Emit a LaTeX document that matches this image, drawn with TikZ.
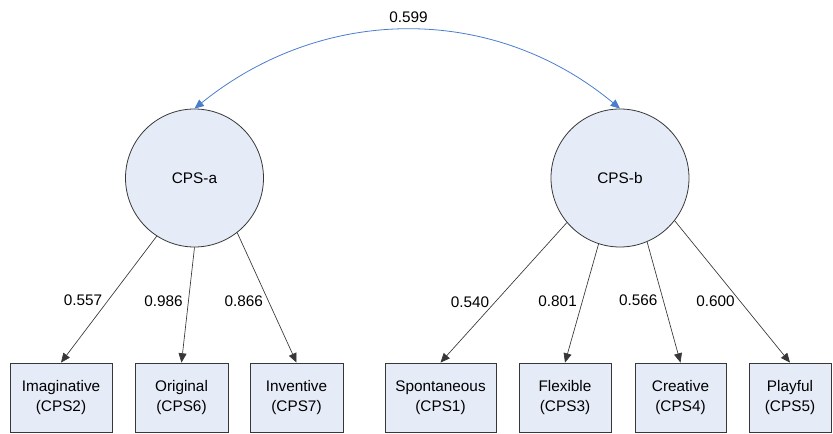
\documentclass[tikz,border=0pt]{standalone}
\usepackage{fontspec}
\setmainfont{Liberation Sans}
\usetikzlibrary{arrows.meta}
\definecolor{boxfill}{RGB}{229,235,247}
\definecolor{edgegray}{RGB}{55,55,55}
\definecolor{corrblue}{RGB}{74,126,205}
\tikzset{
  latent/.style={circle, draw=edgegray, fill=boxfill, line width=0.6pt, minimum size=103.5pt, inner sep=0pt},
  item/.style={rectangle, draw=edgegray, fill=boxfill, line width=0.6pt, minimum height=51.75pt, align=center, inner sep=0pt},
  load/.style={-{Triangle[length=7pt,width=6pt]}, edgegray, line width=0.5pt},
  lbl/.style={left, inner sep=4pt, text=black}
}
\begin{document}
\begin{tikzpicture}[x=0.75pt, y=-0.75pt, font=\fontsize{11.5}{15}\selectfont]
\useasboundingbox (0,0) rectangle (833,434);
% factors
\node[latent] (cpsa) at (194.5,178) {CPS-a};
\node[latent] (cpsb) at (620,178) {CPS-b};
% indicators
\node[item, minimum width=76.5pt] (imag) at (61,397.5) {Imaginative\\(CPS2)};
\node[item, minimum width=69.75pt] (orig) at (181.5,397.5) {Original\\(CPS6)};
\node[item, minimum width=69.75pt] (inve) at (296.5,397.5) {Inventive\\(CPS7)};
\node[item, minimum width=83.25pt] (spon) at (440.5,397.5) {Spontaneous\\(CPS1)};
\node[item, minimum width=69pt] (flex) at (565,397.5) {Flexible\\(CPS3)};
\node[item, minimum width=68.25pt] (crea) at (680.5,397.5) {Creative\\(CPS4)};
\node[item, minimum width=61.5pt] (play) at (790,397.5) {Playful\\(CPS5)};

\draw[load] (cpsa.237) -- node[lbl, pos=0.51]{0.557} (imag.north);
\draw[load] (cpsa.270) -- node[lbl, pos=0.47]{0.986} (orig.north);
\draw[load] (cpsa.308) -- node[lbl, pos=0.53]{0.866} (inve.north);

\draw[load] (cpsb.220) -- node[lbl, pos=0.57]{0.540} (spon.north);
\draw[load] (cpsb.252) -- node[lbl, pos=0.48]{0.801} (flex.north);
\draw[load] (cpsb.293) -- node[lbl, pos=0.48]{0.566} (crea.north);
\draw[load] (cpsb.322) -- node[lbl, pos=0.57]{0.600} (play.north);

% correlation
\draw[{Triangle[length=7pt,width=6pt]}-{Triangle[length=7pt,width=6pt]}, corrblue, line width=0.6pt]
  (cpsa.90) .. controls (324,4) and (494,4) .. node[above=2pt, text=black]{0.599} (cpsb.90);
\end{tikzpicture}
\end{document}
